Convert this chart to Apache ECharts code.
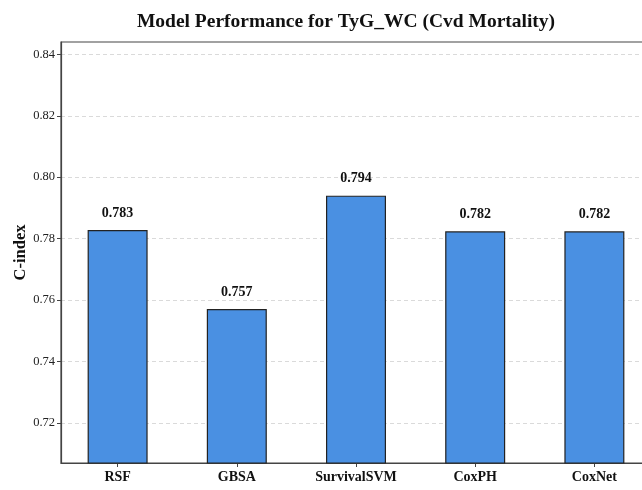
<!DOCTYPE html>
<html lang="en">
<head>
    <meta charset="UTF-8"/>
    <script src="https://cdn.jsdelivr.net/npm/echarts@6/dist/echarts.min.js"></script>
    <title>Model Performance</title>
    <style>
        body{ margin: 0; background: #fff; }
        #chart{ width: 642px; height: 490px; }
    </style>
</head>
<body>
<div id="chart"></div>
<script type="text/javascript">
    var models = ['RSF', 'GBSA', 'SurvivalSVM', 'CoxPH', 'CoxNet'];
    var cIndex = [0.7828, 0.7571, 0.7940, 0.7824, 0.7824];
    var yTicks = [0.72, 0.74, 0.76, 0.78, 0.80, 0.82, 0.84];

    var serif = '"Liberation Serif", "DejaVu Serif", serif';
    var positions = models.map(function (m, i) { return i; });
    var barData = [];
    for (var i = 0; i < models.length; i++) {
        barData.push([i, cIndex[i]]);
    }

    var myChart = echarts.init(document.getElementById('chart'));
    var option = {
        backgroundColor: '#fff',
        animation: false,
        title: {
            text: 'Model Performance for TyG_WC (Cvd Mortality)',
            left: 341,
            top: 7,
            textAlign: 'center',
            textStyle: { fontFamily: serif, fontWeight: 'bold', fontSize: 19.5, color: '#111' }
        },
        grid: {
            left: 61,
            top: 42,
            bottom: 27,
            width: 590,
            outerBoundsMode: 'none',
            containLabel: false,
            show: true,
            borderColor: '#444',
            borderWidth: 1.2,
            backgroundColor: 'transparent'
        },
        xAxis: {
            type: 'value',
            min: -0.475,
            max: 4.475,
            axisLine: { show: true, onZero: false, lineStyle: { color: '#444', width: 1.2 } },
            axisTick: { show: true, customValues: positions, length: 4, lineStyle: { color: '#444' } },
            axisLabel: {
                customValues: positions,
                formatter: function (v) { return models[Math.round(v)]; },
                fontFamily: serif, fontWeight: 'bold', fontSize: 14, color: '#111', margin: 7
            },
            splitLine: { show: false }
        },
        yAxis: {
            type: 'value',
            min: 0.707,
            max: 0.844,
            name: 'C-index',
            nameLocation: 'middle',
            nameGap: 32,
            nameMoveOverlap: false,
            nameTextStyle: { fontFamily: serif, fontWeight: 'bold', fontSize: 16.5, color: '#111' },
            axisLine: { show: true, onZero: false, lineStyle: { color: '#444', width: 1.2 } },
            axisTick: { show: true, customValues: yTicks, length: 4, lineStyle: { color: '#444' } },
            axisLabel: {
                customValues: yTicks,
                formatter: function (v) { return v.toFixed(2); },
                fontFamily: serif, fontSize: 12.5, color: '#222', margin: 6
            },
            splitLine: { show: true, lineStyle: { color: '#d0d0d0', type: [4, 3], width: 0.8 } }
        },
        series: [{
            type: 'bar',
            data: barData,
            barWidth: 60,
            itemStyle: { color: '#4A90E2', borderColor: '#222', borderWidth: 1.2 },
            label: {
                show: true,
                position: 'top',
                distance: 10,
                formatter: function (p) { return p.value[1].toFixed(3); },
                fontFamily: serif, fontWeight: 'bold', fontSize: 14, color: '#111'
            }
        }]
    };
    myChart.setOption(option);
</script>
</body>
</html>
